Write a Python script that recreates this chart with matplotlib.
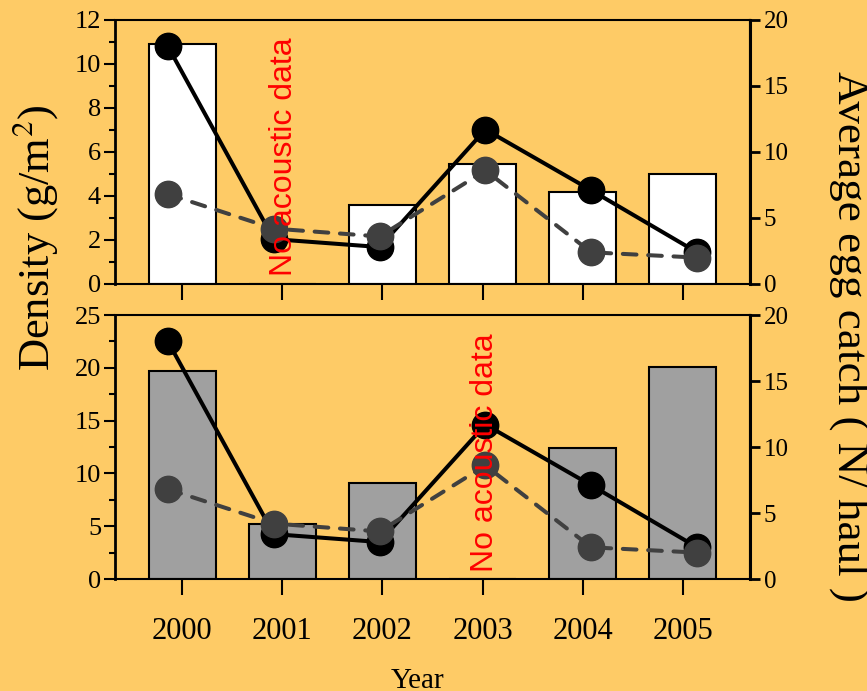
import matplotlib.pyplot as plt
from matplotlib.ticker import MultipleLocator

plt.rcParams['font.family'] = ['Liberation Serif', 'DejaVu Serif']
plt.rcParams['mathtext.fontset'] = 'stix'

# data
years = [2000, 2001, 2002, 2003, 2004, 2005]
density_top = [10.9, 0, 3.6, 5.45, 4.2, 5.0]
density_bottom = [19.7, 5.2, 9.05, 0, 12.4, 20.1]
egg_solid = [18.0, 3.4, 2.8, 11.7, 7.1, 2.4]
egg_dashed = [6.8, 4.2, 3.6, 8.6, 2.4, 2.0]
no_data_year = [2001, 2003]

bg = '#FECB66'
W, H = 867, 691

fig = plt.figure(figsize=(W / 100, H / 100), dpi=100, facecolor=bg)


def rect(left, top, right, bottom):
    return [left / W, 1 - bottom / H, (right - left) / W, (bottom - top) / H]


panels = [
    dict(r=rect(115, 20, 750, 284), dens=density_top, ymax=12, major=2, minor=1,
         color='white', nd=no_data_year[0], nd_y=0.35, labels=False),
    dict(r=rect(115, 315, 750, 579), dens=density_bottom, ymax=25, major=5, minor=2.5,
         color='#A0A0A0', nd=no_data_year[1], nd_y=0.65, labels=True),
]

for p in panels:
    ax = fig.add_axes(p['r'])
    ax.set_facecolor(bg)
    ax.bar(years, p['dens'], width=0.67, color=p['color'], edgecolor='black',
           linewidth=1.5, zorder=2)
    ax.set_xlim(1999.33, 2005.67)
    ax.set_ylim(0, p['ymax'])
    ax.set_xticks(years)
    if p['labels']:
        ax.set_xticklabels([str(y) for y in years], fontsize=22)
    else:
        ax.set_xticklabels([])
    ax.yaxis.set_major_locator(MultipleLocator(p['major']))
    ax.yaxis.set_minor_locator(MultipleLocator(p['minor']))
    ax.tick_params(axis='x', direction='out', length=11.5, width=1.5, pad=16)
    ax.tick_params(axis='y', which='major', direction='out', length=8, width=1.5,
                   labelsize=19, pad=2)
    ax.tick_params(axis='y', which='minor', direction='out', length=4, width=1.5)
    for s in ax.spines.values():
        s.set_linewidth(1.5)
    ax.spines['left'].set_linewidth(2)

    # egg catch layer on the right axis
    ax2 = fig.add_axes(p['r'], facecolor='none')
    ax2.set_xlim(1999.5, 2005.5)
    ax2.set_ylim(0, 20)
    ax2.xaxis.set_visible(False)
    ax2.yaxis.tick_right()
    ax2.yaxis.set_major_locator(MultipleLocator(5))
    ax2.tick_params(axis='y', direction='out', length=7, width=2, labelsize=18, pad=3)
    for s in ax2.spines.values():
        s.set_visible(False)
    ax2.spines['right'].set_visible(True)
    ax2.spines['right'].set_linewidth(2.2)
    ax2.plot(years, egg_solid, color='black', lw=2.9, marker='o', markersize=19,
             zorder=3)
    ax2.plot(years, egg_dashed, color='#404040', lw=2.9, dashes=(3.4, 2.9),
             dash_capstyle='round', marker='o', markersize=19, zorder=4)

    # drawn on the top layer so it sits over the markers
    ax2.text(p['nd'] + 0.02, p['nd_y'], 'No acoustic data', rotation=90, color='red',
             fontsize=23, family=['Liberation Sans'], ha='center', va='bottom',
             transform=ax.transData, zorder=10)

fig.text(35 / W, 1 - 238 / H, 'Density (g/m$^2$)', rotation=90, fontsize=32,
         ha='center', va='center')
fig.text(849 / W, 1 - 336 / H, 'Average egg catch ( N/ haul )', rotation=270,
         fontsize=32.5, ha='center', va='center')
fig.text(418 / W, 1 - 668 / H, 'Year', fontsize=21, ha='center', va='top')

fig.savefig('out.png', dpi=100, facecolor=bg)
